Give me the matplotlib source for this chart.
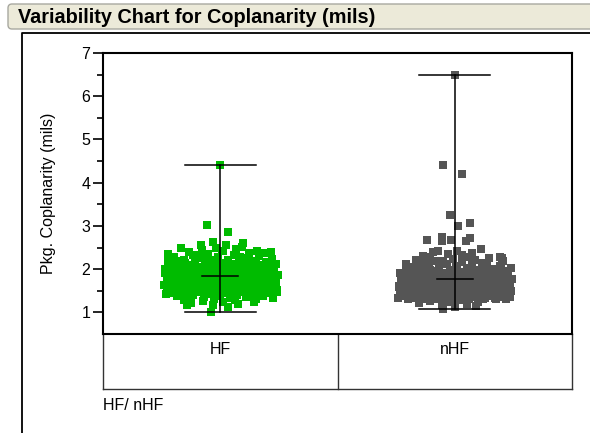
import matplotlib
matplotlib.use("Agg")
import matplotlib.pyplot as plt
import matplotlib.transforms as mtransforms
from matplotlib.patches import FancyBboxPatch
import numpy as np

plt.rcParams['font.family'] = ['Liberation Sans', 'DejaVu Sans']

# data (mils)
categories = ['HF', 'nHF']
group_label = 'HF/ nHF'
point_colors = ['#00bb00', '#555555']

hf_vals = [
    4.40, 3.01, 2.85,
    2.63, 2.60, 2.57, 2.55, 2.52, 2.50, 2.48, 2.46,
    2.44, 2.43, 2.41, 2.40, 2.38, 2.36, 2.35, 2.33, 2.32, 2.30,
    2.29, 2.28, 2.26, 2.25, 2.24, 2.22, 2.21, 2.20,
    2.19, 2.19, 2.18, 2.17, 2.16, 2.15, 2.14, 2.14, 2.13, 2.12,
    2.11, 2.10, 2.09, 2.09, 2.08, 2.07, 2.06, 2.05, 2.04, 2.04,
    2.03, 2.02, 2.01, 2.00,
    1.99, 1.99, 1.98, 1.97, 1.97, 1.96, 1.95, 1.94, 1.94, 1.93,
    1.92, 1.92, 1.91, 1.90, 1.89, 1.89, 1.88, 1.87, 1.87, 1.86,
    1.85, 1.84, 1.84, 1.83, 1.82, 1.82, 1.81, 1.81, 1.80, 1.80,
    1.79, 1.79, 1.78, 1.77, 1.77, 1.76, 1.75, 1.75, 1.74, 1.73,
    1.73, 1.72, 1.71, 1.71, 1.70, 1.69, 1.69, 1.68, 1.67, 1.67,
    1.66, 1.65, 1.65, 1.64, 1.63, 1.63, 1.62, 1.61, 1.61, 1.60,
    1.60, 1.60,
    1.59, 1.58, 1.58, 1.57, 1.56, 1.56, 1.55, 1.54, 1.54, 1.53,
    1.52, 1.52, 1.51, 1.50, 1.49, 1.49, 1.48, 1.47, 1.47, 1.46,
    1.45, 1.44, 1.44, 1.43, 1.42, 1.42, 1.41, 1.40,
    1.39, 1.38, 1.37, 1.36, 1.35, 1.34, 1.33, 1.32, 1.31, 1.30,
    1.29, 1.28, 1.27, 1.25, 1.23, 1.21,
    1.19, 1.16, 1.16, 1.12, 1.02,
    1.41, 1.43, 1.45, 1.46, 1.48, 1.50, 1.51, 1.53, 1.55, 1.56,
    1.58, 1.59, 1.61, 1.62, 1.64, 1.66, 1.67, 1.69, 1.70, 1.72,
    1.74, 1.75, 1.77, 1.78, 1.80, 1.81, 1.83, 1.85, 1.86, 1.88,
    1.90, 1.91, 1.93, 1.95, 1.96, 1.98, 2.00, 2.02, 2.05, 2.08,
    2.11, 2.14, 2.17, 2.21, 2.25, 2.29, 2.33, 2.37, 2.42,
    1.37, 1.40, 1.44, 1.47, 1.52, 1.54, 1.57, 1.63, 1.65, 1.68,
    1.71, 1.73, 1.76, 1.79, 1.84, 1.87, 1.92, 1.97, 2.01, 2.06,
    2.12, 2.18, 2.23, 2.31, 2.39,
]

nhf_vals = [
    6.48, 4.41, 4.20, 3.25, 3.06, 2.99, 2.75, 2.73, 2.68, 2.67, 2.64, 2.64,
    2.46, 2.43, 2.40, 2.38, 2.35, 2.31,
    2.29, 2.27, 2.26, 2.24, 2.22, 2.21, 2.19, 2.18, 2.16, 2.15,
    2.13, 2.12, 2.11, 2.10,
    2.09, 2.08, 2.07, 2.06, 2.05, 2.04, 2.03, 2.02, 2.01, 2.00,
    1.99, 1.98, 1.97, 1.96, 1.95, 1.94, 1.94, 1.93, 1.92, 1.91,
    1.91, 1.90,
    1.89, 1.89, 1.88, 1.87, 1.87, 1.86, 1.85, 1.85, 1.84, 1.83,
    1.83, 1.82, 1.81, 1.81, 1.80, 1.79, 1.79, 1.78, 1.77, 1.77,
    1.76, 1.75, 1.75, 1.74, 1.73, 1.73, 1.72, 1.72, 1.71, 1.71,
    1.70, 1.70,
    1.69, 1.69, 1.68, 1.68, 1.67, 1.67, 1.66, 1.66, 1.65, 1.65,
    1.64, 1.64, 1.63, 1.63, 1.62, 1.62, 1.61, 1.61, 1.60, 1.60,
    1.59, 1.59, 1.58, 1.58, 1.57, 1.57, 1.56, 1.56, 1.55, 1.55,
    1.54, 1.54, 1.53, 1.53, 1.52, 1.52, 1.51, 1.51, 1.50, 1.50,
    1.50, 1.50,
    1.49, 1.49, 1.48, 1.48, 1.47, 1.47, 1.46, 1.46, 1.45, 1.45,
    1.44, 1.44, 1.43, 1.43, 1.42, 1.42, 1.41, 1.41, 1.40, 1.40,
    1.39, 1.39, 1.38, 1.38, 1.37, 1.37, 1.36, 1.36, 1.35, 1.35,
    1.34, 1.34, 1.33, 1.33, 1.32, 1.32, 1.31, 1.31, 1.30, 1.30,
    1.30, 1.30,
    1.28, 1.27, 1.25, 1.23, 1.22, 1.20, 1.18, 1.15, 1.12, 1.07,
    1.32, 1.34, 1.36, 1.38, 1.40, 1.42, 1.44, 1.46, 1.48, 1.50,
    1.52, 1.54, 1.56, 1.58, 1.60, 1.62, 1.64, 1.66, 1.68, 1.70,
    1.72, 1.74, 1.76, 1.78, 1.80, 1.83, 1.86, 1.89, 1.92, 1.95,
    1.98, 2.02, 2.06, 2.10, 2.15, 2.20, 2.26, 2.33, 2.41,
    1.33, 1.37, 1.41, 1.45, 1.49, 1.53, 1.57, 1.61, 1.65, 1.69,
    1.73, 1.77, 1.82, 1.87, 1.93, 2.00, 2.08, 2.17, 2.28,
]

groups = [hf_vals, nhf_vals]


def jitter(vals, width=0.245):
    # density based spread, deterministic (golden ratio sequence)
    v = np.asarray(vals)
    counts, edges = np.histogram(v, bins=np.arange(0.5, 7.01, 0.1))
    idx = np.clip(np.digitize(v, edges) - 1, 0, len(counts) - 1)
    dens = counts[idx] / counts.max()
    w = width * np.clip(np.sqrt(dens) * 1.5, 0.15, 1.0)
    phase = (np.arange(len(v)) * 0.618034 + 0.5) % 1.0
    return (phase * 2 - 1) * w


fig = plt.figure(figsize=(5.9, 4.33), dpi=100)

# background layer in pixel coordinates
bg = fig.add_axes([0, 0, 1, 1], zorder=0)
bg.set_xlim(0, 590)
bg.set_ylim(433, 0)
bg.axis('off')

bar = FancyBboxPatch((8, 4), 600, 25, boxstyle="round,pad=0,rounding_size=4",
                     facecolor='#ecead9', edgecolor='#a8a8a0', lw=1.0)
bg.add_patch(bar)
bg.text(18, 17.5, 'Variability Chart for Coplanarity (mils)', fontsize=14.3,
        fontweight='bold', ha='left', va='center', color='black')
bg.plot([22, 22, 592], [434, 33, 33], color='black', lw=1.3, solid_capstyle='butt')

# main plot
ax = fig.add_axes([103 / 590, 1 - 334 / 433, 469 / 590, 281 / 433], zorder=1)
ax.set_xlim(-0.5, 1.5)
ax.set_ylim(0.5, 7)
for s in ax.spines.values():
    s.set_linewidth(1.5)
ax.set_xticks([])
ax.set_yticks(range(1, 8))
ax.set_yticks(np.arange(1.5, 7, 1.0), minor=True)
ax.tick_params(axis='y', which='major', length=7, width=1.2, labelsize=11.5, pad=2)
ax.tick_params(axis='y', which='minor', length=4, width=1.2)
ax.set_ylabel('Pkg. Coplanarity (mils)', fontsize=11.5, labelpad=18)

for i, vals in enumerate(groups):
    ax.scatter(i + jitter(vals), vals, marker='s', s=33, color=point_colors[i],
               linewidths=0, zorder=2)
    lo, hi, m = min(vals), max(vals), np.mean(vals)
    ax.plot([i, i], [lo, hi], color='black', lw=1.1, zorder=3)
    ax.plot([i - 0.152, i + 0.152], [hi, hi], color='black', lw=1.1, zorder=3)
    ax.plot([i - 0.152, i + 0.152], [lo, lo], color='black', lw=1.1, zorder=3)
    ax.plot([i - 0.077, i + 0.077], [m, m], color='black', lw=1.1, zorder=3)

# category table below the plot
tr = mtransforms.blended_transform_factory(ax.transData, bg.transData)
bg.plot([-0.5, 1.5], [389, 389], color='#333333', lw=1.0, transform=tr)
for xb in [-0.5, 0.5, 1.5]:
    bg.plot([xb, xb], [334, 389], color='#333333', lw=1.0, transform=tr)
for i, c in enumerate(categories):
    bg.text(i, 350, c, fontsize=11.5, ha='center', va='center', transform=tr)
bg.text(103, 406, group_label, fontsize=11.5, ha='left', va='center')

fig.savefig('out.png', dpi=100)
